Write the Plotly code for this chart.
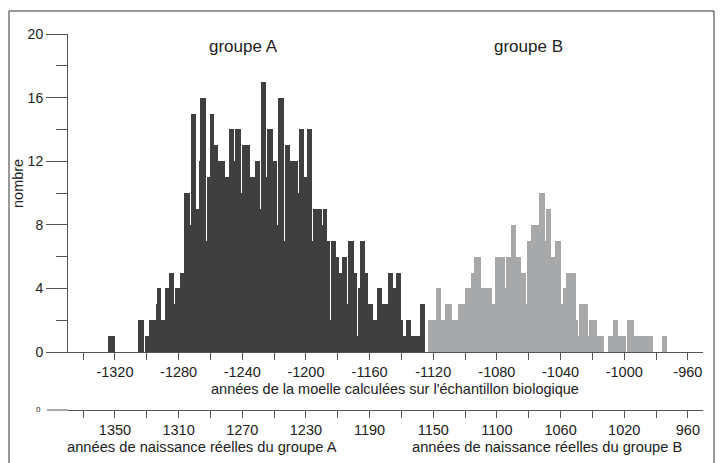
import plotly.graph_objects as go

# ---- data: counts per 1-year bin ----
A_START = -1324
A_COUNTS = [1, 1, 1, 1,
            0, 0, 0, 0, 0, 0, 0, 0, 0, 0, 0, 0, 0, 0, 0,
            2, 2, 2, 0, 1, 1, 1, 2, 2, 2, 2, 3, 4, 4, 2, 2, 2, 4, 4,
            5, 5, 5, 3, 4, 4, 4, 5, 5, 5, 10, 10, 10, 8, 15, 15, 15,
            9, 9, 12, 16, 16, 16, 7, 11, 11, 15, 15, 13, 13, 13,
            12, 12, 12, 12, 11, 11, 11, 14, 14, 14, 12, 14, 14, 14, 10,
            13, 13, 13, 13, 13, 11, 11, 11, 12, 12, 12, 9, 17, 17, 17, 11,
            14, 14, 14, 12, 12, 12, 8, 16, 16, 16, 7, 13, 13, 13,
            12, 12, 12, 12, 12, 10, 14, 14, 14, 11, 11, 14, 14, 14, 7,
            9, 9, 9, 9, 9, 8, 9, 9, 7, 7, 2, 7, 7, 7, 6, 6, 5, 5,
            6, 6, 6, 3, 7, 7, 7, 5, 5, 1, 4, 7, 7, 7, 5, 5,
            3, 3, 3, 2, 2, 2, 4, 4, 4, 3, 3, 3, 3, 5, 5, 5, 4, 4,
            5, 5, 5, 2, 1, 1, 2, 2, 2, 1, 1, 1, 1, 1, 1, 3, 3, 3]

B_START = -1123
B_COUNTS = [2, 2, 2, 2, 2, 4, 4, 4, 2, 2, 2, 3, 3, 3, 3, 2, 2, 2, 2,
            3, 3, 3, 3, 4, 4, 4, 4, 5, 5, 6, 6, 6, 6,
            4, 4, 4, 4, 4, 4, 4, 3, 3, 6, 6, 6, 6, 6, 6, 4, 6, 6, 6,
            8, 8, 8, 6, 6, 6, 5, 5, 5, 3, 7, 7, 7, 8, 8, 8, 8, 8,
            10, 10, 10, 7, 9, 9, 9, 6, 6, 6, 7, 7, 7, 3, 3, 4, 4,
            5, 5, 5, 5, 5, 5, 2, 1, 3, 3, 3, 3, 3, 1, 2, 2, 2, 2, 2,
            1, 1, 1, 1, 0, 0, 0, 1, 1, 1, 2, 2, 2, 1, 1, 1, 1, 1, 0,
            2, 2, 2, 2, 1, 1, 1, 1, 1, 1, 1, 1, 1, 1, 1, 1,
            0, 0, 0, 0, 0, 0, 1, 1, 1]

X_TICKS = [-1320, -1280, -1240, -1200, -1160, -1120, -1080, -1040, -1000, -960]
X_TICK_TEXT = ["-1320", "-1280", "-1240", "-1200", "-1160", "-1120", "-1080", "-1040", "-1000", "-960"]
X_MINOR = [-1340, -1300, -1260, -1220, -1180, -1140, -1100, -1060, -1020, -980]
X2_TICK_TEXT = ["1350", "1310", "1270", "1230", "1190", "1150", "1100", "1060", "1020", "960"]
Y_TICKS = [0, 4, 8, 12, 16, 20]
Y_MINOR = [2, 6, 10, 14, 18]

A_X = [A_START + i + 0.5 for i in range(len(A_COUNTS))]
B_X = [B_START + i + 0.5 for i in range(len(B_COUNTS))]

FONT = "Liberation Sans, Arial, sans-serif"
AX = "#555555"
TXT = "#222222"

fig = go.Figure()
fig.add_trace(go.Bar(x=A_X, y=A_COUNTS, width=1, marker=dict(color="#3f3f3f", line=dict(width=0)),
                     xaxis="x", yaxis="y", showlegend=False))
fig.add_trace(go.Bar(x=B_X, y=B_COUNTS, width=1, marker=dict(color="#a7a8aa", line=dict(width=0)),
                     xaxis="x2", yaxis="y", showlegend=False))

W, H = 723, 463
L, R, T, B = 68, 20, 34, 53
pw = W - L - R
ph = H - T - B


def px(x):
    return (x - L) / pw


def py(y):
    return (H - B - y) / ph


XR = [-1349.5, -950.5]
common_x = dict(range=XR, tickmode="array", tickvals=X_TICKS, ticks="outside", ticklen=7,
                tickcolor=AX, tickwidth=1, showline=True, linecolor=AX, linewidth=1,
                showgrid=False, zeroline=False,
                tickfont=dict(family=FONT, size=14.5, color=TXT),
                minor=dict(tickmode="array", tickvals=X_MINOR, ticks="outside", ticklen=7,
                           tickcolor=AX, tickwidth=1, showgrid=False))

fig.update_layout(
    width=W, height=H,
    margin=dict(l=L, r=R, t=T, b=B, pad=0),
    paper_bgcolor="white", plot_bgcolor="white",
    bargap=0,
    font=dict(family=FONT, color=TXT),
    xaxis=dict(anchor="y", ticktext=X_TICK_TEXT, **common_x),
    xaxis2=dict(overlaying="x", anchor="free", position=0, side="bottom",
                ticktext=X2_TICK_TEXT, **common_x),
    yaxis=dict(domain=[(H - B - 352) / ph, 1], range=[0, 20], tickmode="array", tickvals=Y_TICKS,
               ticks="outside", ticklen=21, tickcolor=AX, tickwidth=1,
               showline=True, linecolor=AX, linewidth=1, showgrid=False, zeroline=False,
               tickfont=dict(family=FONT, size=14, color=TXT),
               minor=dict(tickmode="array", tickvals=Y_MINOR, ticks="outside", ticklen=11,
                          tickcolor=AX, tickwidth=1, showgrid=False)),
)

ann = [
    ("nombre", 18, 184, 14.5, -90),
    ("groupe A", 243, 47, 17, 0),
    ("groupe B", 528, 47, 17, 0),
    ("années de la moelle calculées sur l'échantillon biologique", 395, 389, 14.5, 0),
    ("années de naissance réelles du groupe A", 202, 447, 14.7, 0),
    ("années de naissance réelles du groupe B", 547, 447, 14.7, 0),
    ("0", 38, 409, 8, 0),
]
for text, x, y, size, ang in ann:
    fig.add_annotation(text=text, x=px(x), y=py(y), xref="paper", yref="paper",
                       xanchor="center", yanchor="middle", showarrow=False, textangle=ang,
                       font=dict(family=FONT, size=size, color=TXT))

# short stub of the second axis line left of the y axis, and outer frame
fig.add_shape(type="line", xref="paper", yref="paper", x0=px(47), x1=px(68), y0=0, y1=0,
              line=dict(color=AX, width=1))
fig.add_shape(type="rect", xref="paper", yref="paper", x0=px(9), x1=px(714), y0=py(475), y1=py(11),
              line=dict(color="#333333", width=1), fillcolor="rgba(0,0,0,0)", layer="below")

fig.write_html("out.html", config={"displayModeBar": False},
               post_script="document.body.style.margin='0';document.body.style.padding='0';")
